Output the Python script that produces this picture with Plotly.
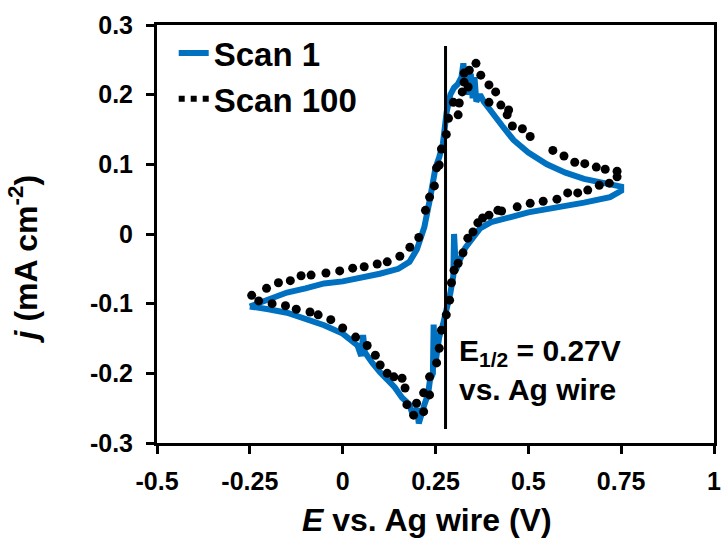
import plotly.graph_objects as go

# ---- data ----
scan1_E = [-0.25, -0.2, -0.15, -0.1, -0.05, 0.0, 0.05, 0.1, 0.15, 0.18, 0.2, 0.22, 0.235, 0.25, 0.26, 0.27,
           0.28, 0.29, 0.30, 0.31, 0.32, 0.325, 0.33, 0.335, 0.34, 0.345, 0.35, 0.355, 0.36, 0.37, 0.38, 0.4,
           0.43, 0.46, 0.5, 0.55, 0.6, 0.65, 0.7, 0.75,
           0.75, 0.72, 0.65, 0.58, 0.5, 0.45, 0.4, 0.37, 0.35, 0.33, 0.315, 0.305, 0.30, 0.298, 0.29, 0.28,
           0.27, 0.26, 0.25, 0.245, 0.243, 0.235, 0.23, 0.22, 0.21, 0.205, 0.2, 0.19, 0.18, 0.17, 0.16, 0.14,
           0.12, 0.1, 0.08, 0.06, 0.055, 0.05, 0.04, 0.02, 0.0, -0.05, -0.1, -0.15, -0.2, -0.25]
scan1_j = [-0.104, -0.095, -0.084, -0.078, -0.071, -0.068, -0.063, -0.057, -0.05, -0.04, -0.022, 0.01, 0.05,
           0.095, 0.11, 0.13, 0.175, 0.2, 0.21, 0.215, 0.225, 0.245, 0.22, 0.235, 0.2, 0.23, 0.195, 0.225, 0.19,
           0.2, 0.19, 0.175, 0.155, 0.135, 0.117, 0.1, 0.088, 0.079, 0.073, 0.068,
           0.062, 0.053, 0.045, 0.039, 0.031, 0.024, 0.017, 0.008, -0.005, -0.02, -0.038, -0.052, 0.0, -0.06,
           -0.085, -0.113, -0.13, -0.148, -0.185, -0.13, -0.2, -0.21, -0.23, -0.245, -0.26, -0.272, -0.25,
           -0.262, -0.245, -0.24, -0.235, -0.22, -0.21, -0.198, -0.185, -0.17, -0.145, -0.175, -0.16, -0.152,
           -0.143, -0.131, -0.121, -0.113, -0.108, -0.104]

scan100_E = [-0.245, -0.205, -0.173, -0.141, -0.112, -0.085, -0.045, -0.008, 0.027, 0.058, 0.093, 0.12, 0.154,
             0.181, 0.205, 0.223, 0.234, 0.247, 0.253, 0.26, 0.266, 0.279, 0.285, 0.298, 0.311, 0.314, 0.322,
             0.327, 0.338, 0.327, 0.341, 0.359, 0.372, 0.394, 0.412, 0.394, 0.426, 0.447, 0.443, 0.457, 0.484,
             0.505, 0.566, 0.596, 0.625, 0.652, 0.683, 0.707, 0.739, 0.739,
             0.718, 0.691, 0.66, 0.633, 0.606, 0.577, 0.54, 0.505, 0.47, 0.428, 0.418, 0.394, 0.377, 0.364,
             0.351, 0.337, 0.324, 0.311, 0.3, 0.293, 0.288, 0.279, 0.266, 0.26, 0.253, 0.234, 0.218, 0.234,
             0.218, 0.199, 0.191, 0.173, 0.168, 0.16, 0.138, 0.12, 0.101, 0.088, 0.066, 0.035, 0.0, -0.032,
             -0.066, -0.088, -0.125, -0.154, -0.19, -0.226]
scan100_j = [-0.088, -0.078, -0.07, -0.067, -0.06, -0.059, -0.056, -0.053, -0.049, -0.047, -0.043, -0.04, -0.032,
             -0.019, -0.005, 0.034, 0.053, 0.069, 0.095, 0.099, 0.122, 0.143, 0.166, 0.189, 0.171, 0.188, 0.204,
             0.218, 0.211, 0.231, 0.235, 0.245, 0.228, 0.214, 0.204, 0.189, 0.185, 0.178, 0.171, 0.155, 0.151,
             0.14, 0.12, 0.112, 0.103, 0.101, 0.096, 0.093, 0.09, 0.082,
             0.073, 0.07, 0.063, 0.059, 0.059, 0.05, 0.047, 0.044, 0.039, 0.033, 0.034, 0.027, 0.023, 0.016,
             0.003, -0.006, -0.027, -0.042, -0.052, -0.07, -0.095, -0.116, -0.138, -0.164, -0.185, -0.205,
             -0.228, -0.231, -0.255, -0.243, -0.26, -0.245, -0.221, -0.207, -0.205, -0.2, -0.188, -0.174,
             -0.16, -0.148, -0.135, -0.123, -0.116, -0.112, -0.108, -0.103, -0.1, -0.096]

e_half_E = [0.277, 0.277]
e_half_j = [0.27, -0.28]

x_tickvals = [-0.5, -0.25, 0, 0.25, 0.5, 0.75, 1]
x_ticktext = ["-0.5", "-0.25", "0", "0.25", "0.5", "0.75", "1"]
y_tickvals = [-0.3, -0.2, -0.1, 0, 0.1, 0.2, 0.3]
y_ticktext = ["-0.3", "-0.2", "-0.1", "0", "0.1", "0.2", "0.3"]

FONT = "Liberation Sans, Arial, Helvetica, sans-serif"
BLUE = "#0070C0"

fig = go.Figure()
fig.add_trace(go.Scatter(x=scan1_E, y=scan1_j, mode="lines", name="Scan 1",
                         line=dict(color=BLUE, width=6)))
fig.add_trace(go.Scatter(x=scan100_E, y=scan100_j, mode="markers", name="Scan 100", showlegend=False,
                         marker=dict(color="black", size=9)))
# legend sample for Scan 100 (dotted)
fig.add_trace(go.Scatter(x=[None], y=[None], mode="lines", name="Scan 100",
                         line=dict(color="black", width=6, dash="6px,6px")))
# E1/2 line
fig.add_trace(go.Scatter(x=e_half_E, y=e_half_j, mode="lines", showlegend=False,
                         line=dict(color="black", width=3)))

axis_common = dict(showline=True, linecolor="black", linewidth=3, mirror=True,
                   ticks="outside", ticklen=8, tickwidth=3, tickcolor="black",
                   showgrid=False, zeroline=False,
                   tickfont=dict(family=FONT, size=25, color="black", weight="bold"))

fig.update_xaxes(range=[-0.5, 1], tickvals=x_tickvals, ticktext=x_ticktext, ticklabelstandoff=6, **axis_common)
fig.update_yaxes(range=[-0.3, 0.3], tickvals=y_tickvals, ticktext=y_ticktext, ticklabelstandoff=8, **axis_common)

fig.update_layout(
    width=727, height=542,
    margin=dict(l=157, r=6, t=25, b=99),
    paper_bgcolor="white", plot_bgcolor="white",
    showlegend=True,
    legend=dict(x=0.03, y=1.0, xanchor="left", yanchor="top",
                font=dict(family=FONT, size=33, color="black", weight="bold"),
                bgcolor="rgba(0,0,0,0)", borderwidth=0, tracegroupgap=0),
    annotations=[
        dict(text="<i>E</i> vs. Ag wire (V)", xref="paper", yref="paper", x=0.485, y=-0.185,
             xanchor="center", yanchor="middle", showarrow=False,
             font=dict(family=FONT, size=32, color="black", weight="bold")),
        dict(text="<i>j</i> (mA cm<sup>-2</sup>)", xref="paper", yref="paper", x=-0.24, y=0.44,
             xanchor="center", yanchor="middle", textangle=-90, showarrow=False,
             font=dict(family=FONT, size=32, color="black", weight="bold")),
        dict(text="E<sub>1/2</sub> = 0.27V<br>vs. Ag wire", xref="x", yref="y", x=0.308, y=-0.195,
             xanchor="left", yanchor="middle", align="left", showarrow=False,
             font=dict(family=FONT, size=30, color="black", weight="bold")),
    ],
)

fig.write_html("out.html")
